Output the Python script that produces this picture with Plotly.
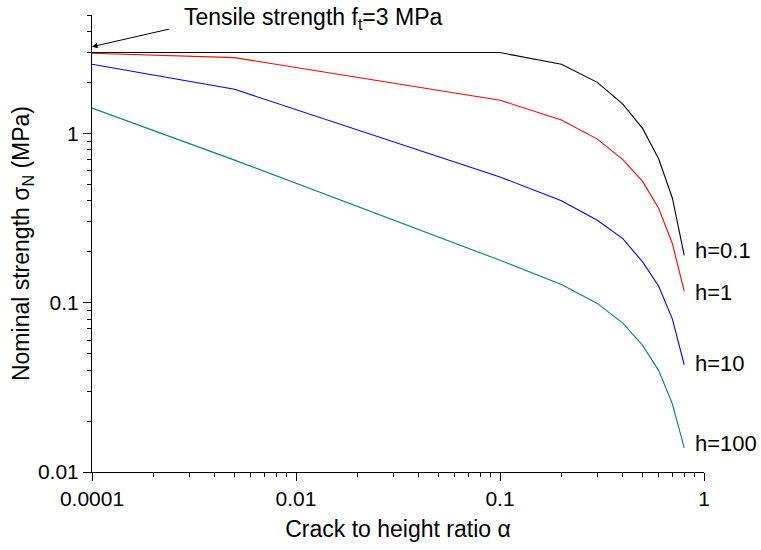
import math
import plotly.graph_objects as go

# Crack to height ratio (axis positions; the left tick is labelled "0.0001" in the original)
alpha = [0.001, 0.005, 0.1, 0.2, 0.3, 0.4, 0.5, 0.6, 0.7, 0.8]

# Nominal strength (MPa) for each beam height
h_01 = [3.0, 3.0, 3.0, 2.56, 2.0, 1.49, 1.07, 0.705, 0.414, 0.19]
h_1 = [2.97, 2.80, 1.57, 1.20, 0.925, 0.70, 0.52, 0.36, 0.223, 0.117]
h_10 = [2.56, 1.82, 0.553, 0.40, 0.307, 0.239, 0.174, 0.125, 0.080, 0.043]
h_100 = [1.41, 0.695, 0.178, 0.128, 0.099, 0.0757, 0.0559, 0.0397, 0.0252, 0.0139]

series_names = ["h=0.1", "h=1", "h=10", "h=100"]
series_vals = [h_01, h_1, h_10, h_100]
colors = ["#000000", "#ff0000", "#0000ff", "#008080"]
label_yshift = [5, -1, 1, 4]

x_tickvals = [0.001, 0.01, 0.1, 1]
x_ticktext = ["0.0001", "0.01", "0.1", "1"]
y_tickvals = [0.01, 0.1, 1]
y_ticktext = ["0.01", "0.1", "1"]

FONT = "Liberation Sans, Arial, sans-serif"

fig = go.Figure()
for name, vals, c in zip(series_names, series_vals, colors):
    fig.add_trace(go.Scatter(x=alpha, y=vals, mode="lines", name=name,
                             line=dict(color=c, width=1.1), showlegend=False))

for name, vals, c, ys in zip(series_names, series_vals, colors, label_yshift):
    fig.add_annotation(x=math.log10(alpha[-1]), y=math.log10(vals[-1]), xref="x", yref="y",
                       text=name, showarrow=False, xanchor="left", yanchor="middle",
                       xshift=9, yshift=ys, font=dict(size=22, color="black", family=FONT))

# arrow pointing to tensile strength at the axis
fig.add_annotation(x=math.log10(alpha[0]), y=math.log10(3.25), xref="x", yref="y",
                   text=" ", showarrow=True, ax=79, ay=-18, arrowhead=2, arrowsize=1.1,
                   arrowwidth=1, arrowcolor="black", standoff=0, startstandoff=0,
                   font=dict(size=2))
fig.add_annotation(x=0.147, y=0.993, xref="paper", yref="paper",
                   text="Tensile strength f<sub>t</sub>=3 MPa", showarrow=False,
                   xanchor="left", yanchor="middle",
                   font=dict(size=23, color="black", family=FONT))

fig.update_layout(
    width=761, height=550,
    margin=dict(l=92, r=57, t=15, b=78),
    paper_bgcolor="white", plot_bgcolor="white",
    font=dict(family=FONT, color="black"),
)
fig.update_xaxes(
    type="log", range=[-3, 0], showgrid=False, zeroline=False,
    showline=True, linecolor="black", linewidth=1,
    tickmode="array", tickvals=x_tickvals, ticktext=x_ticktext,
    ticks="outside", ticklen=8, tickwidth=1, tickcolor="black",
    tickfont=dict(size=21, family=FONT, color="black"),
    minor=dict(ticks="outside", ticklen=4, tickwidth=1, tickcolor="black", dtick="D1", showgrid=False),
    title=dict(text="Crack to height ratio α", font=dict(size=23, family=FONT, color="black"), standoff=11),
)
fig.update_yaxes(
    type="log", range=[-2, math.log10(5)], showgrid=False, zeroline=False,
    showline=True, linecolor="black", linewidth=1,
    tickmode="array", tickvals=y_tickvals, ticktext=y_ticktext,
    ticks="outside", ticklen=8, tickwidth=1, tickcolor="black",
    tickfont=dict(size=21, family=FONT, color="black"),
    minor=dict(ticks="outside", ticklen=4, tickwidth=1, tickcolor="black", dtick="D1", showgrid=False),
    title=dict(text="Nominal strength σ<sub>N</sub> (MPa)", font=dict(size=23, family=FONT, color="black"), standoff=1),
)

fig.write_html("out.html")
